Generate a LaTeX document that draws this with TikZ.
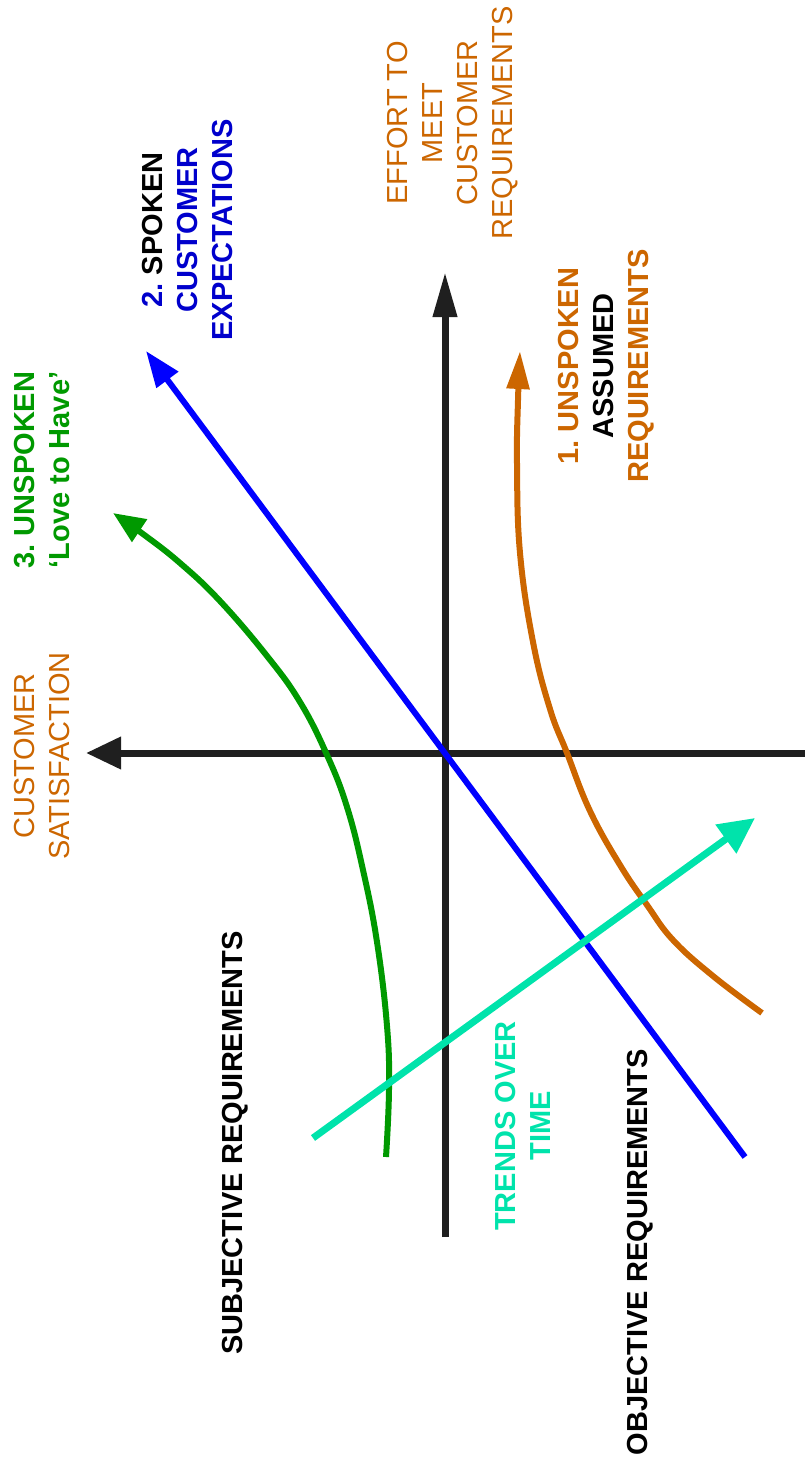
\documentclass[tikz,border=0pt]{standalone}
\usepackage{fontspec}
\setmainfont{Liberation Sans}
\usetikzlibrary{arrows.meta}
\definecolor{kanoorange}{HTML}{CC6600}
\definecolor{kanoblue}{HTML}{0000FF}
\definecolor{kanobluetext}{HTML}{0000CC}
\definecolor{kanogreen}{HTML}{009900}
\definecolor{kanoteal}{HTML}{00E3AB}
\definecolor{axisgray}{HTML}{1F1F1F}
\tikzset{
  lbl/.style={rotate=90, align=center, inner sep=0pt, font=\fontsize{29}{35}\selectfont},
  boldlbl/.style={lbl, font=\fontsize{29}{35}\selectfont\bfseries},
  axisline/.style={draw=axisgray, line width=7pt},
  curveline/.style={line width=6pt}
}
\frenchspacing
\begin{document}
\begin{tikzpicture}[x=1pt, y=-1pt]
\useasboundingbox (0,0) rectangle (805,1471);

% axis end points
\coordinate (origin) at (445,753);
\coordinate (ybot) at (445,1237);
\coordinate (ytop) at (445,272);
\coordinate (xright) at (805,753);
\coordinate (xleft) at (86,753);

% axes
\draw[axisline, -{Triangle[length=45pt, width=23pt]}] (ybot) -- (ytop);
\draw[axisline, -{Triangle[length=35pt, width=31pt]}] (xright) -- (xleft);

% spoken customer expectations (straight line)
\coordinate (bluestart) at (745,1157);
\coordinate (bluetip) at (146,351);
\draw[curveline, kanoblue, -{Triangle[length=36pt, width=26pt]}] (bluestart) -- (bluetip);

% unspoken "love to have" curve
\draw[curveline, kanogreen, -{Triangle[length=32pt, width=26pt]}]
  plot[smooth, tension=0.7] coordinates {
    (386,1157) (389,1089) (387,1026) (377,942) (363,870) (347,807)
    (327,755) (300,702) (267,656) (220,601) (180,563) (143,534) (113,513)};

% unspoken assumed requirements curve
\draw[curveline, kanoorange, -{Triangle[length=38pt, width=22pt]}]
  plot[smooth, tension=0.7] coordinates {
    (762,1013) (713,976) (673,940) (647,905) (620,865) (590,811)
    (567,753) (550,709) (533,642) (520,553) (517,464) (518,400) (520,351)};

% trends over time
\coordinate (tealstart) at (313,1138);
\coordinate (tealtip) at (755,818);
\draw[line width=7pt, kanoteal, -{Triangle[length=36pt, width=34pt]}] (tealstart) -- (tealtip);

% labels
\node[lbl, text=kanoorange] (effort) at (453,123)
  {EFFORT TO\\MEET\\CUSTOMER\\REQUIREMENTS};
\node[boldlbl] (assumed) at (606,366)
  {\textcolor{kanoorange}{1. UNSPOKEN}\\ASSUMED\\\textcolor{kanoorange}{REQUIREMENTS}};
\node[boldlbl] (spoken) at (188,230)
  {\textcolor{kanobluetext}{2.} SPOKEN\\\textcolor{kanobluetext}{CUSTOMER}\\\textcolor{kanobluetext}{EXPECTATIONS}};
\node[boldlbl, text=kanogreen] (lovetohave) at (42,470)
  {3. UNSPOKEN\\‘Love to Have’};
\node[lbl, text=kanoorange] (satisfaction) at (42,756)
  {CUSTOMER\\SATISFACTION};
\node[boldlbl] (subjective) at (235,1143) {SUBJECTIVE REQUIREMENTS};
\node[boldlbl, text=kanoteal] (trends) at (523,1126) {TRENDS OVER\\TIME};
\node[boldlbl] (objective) at (640,1252) {OBJECTIVE REQUIREMENTS};
\end{tikzpicture}
\end{document}
